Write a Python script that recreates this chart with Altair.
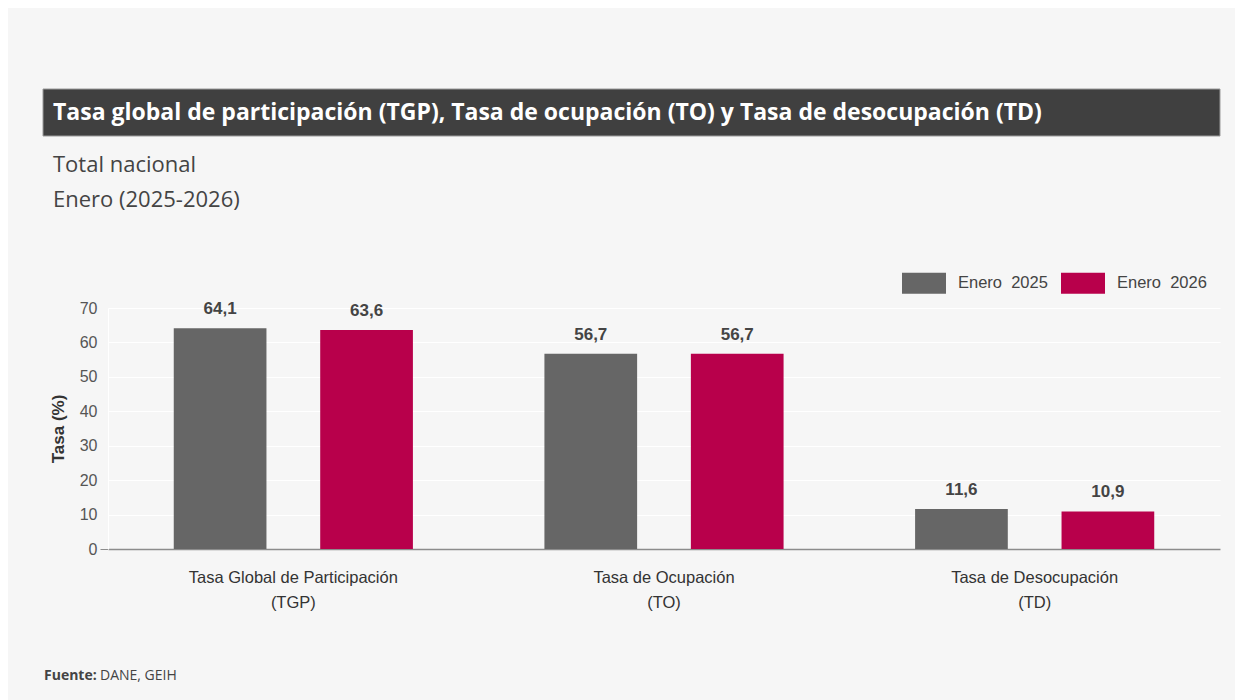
import altair as alt
import pandas as pd

# ---- data ----
categories = ["Tasa Global de Participación|(TGP)", "Tasa de Ocupación|(TO)", "Tasa de Desocupación|(TD)"]
series = ["Enero \u00a02025", "Enero \u00a02026"]
values_2025 = [64.1, 56.7, 11.6]
values_2026 = [63.6, 56.7, 10.9]
colors = ["#666666", "#B8004B"]
y_ticks = [0, 10, 20, 30, 40, 50, 60, 70]

title_text = "Tasa global de participación (TGP), Tasa de ocupación (TO) y Tasa de desocupación (TD)"
subtitle_lines = ["Total nacional", "Enero (2025-2026)"]
source_bold = "Fuente:"
source_text = "DANE, GEIH"

rows = []
for c, v in zip(categories, values_2025):
    rows.append({"cat": c, "serie": series[0], "valor": v})
for c, v in zip(categories, values_2026):
    rows.append({"cat": c, "serie": series[1], "valor": v})
df = pd.DataFrame(rows)

W, H = 1112, 241
LABEL_FONT = "Liberation Sans"
TEXT_FONT = "Open Sans"

x_axis = alt.Axis(labelExpr="split(datum.label, '|')", labelAngle=0,
                  labelFont=LABEL_FONT, labelFontSize=16.5, labelColor="#333333",
                  labelLineHeight=25, labelPadding=20, labelLimit=0, ticks=False,
                  domainColor="#8c8c8c", domainWidth=1.5, grid=False)
y_axis = alt.Axis(values=y_ticks, labelOverlap=False, tickCount=8,
                  labelFont=LABEL_FONT, labelFontSize=16, labelColor="#555555",
                  titleFont=LABEL_FONT, titleFontSize=17, titleFontWeight="bold",
                  titleColor="#333333", titlePadding=12,
                  tickSize=8, labelPadding=3,
                  tickColor={"condition": {"test": "datum.value == 0", "value": "#8c8c8c"},
                             "value": "transparent"},
                  gridColor="#ffffff", gridWidth=1.2,
                  domainColor="#ffffff", domainWidth=1.2)

x_enc = alt.X("cat:N", sort=categories, title=None,
              scale=alt.Scale(paddingInner=0, paddingOuter=0), axis=x_axis)
xoff_enc = alt.XOffset("serie:N", sort=series,
                       scale=alt.Scale(paddingInner=0.367, paddingOuter=0.449))
y_enc = alt.Y("valor:Q", title="Tasa (%)",
              scale=alt.Scale(domain=[0, 70], nice=False), axis=y_axis)

color_enc = alt.Color("serie:N", sort=series,
                      scale=alt.Scale(domain=series, range=colors),
                      legend=alt.Legend(title=None, orient="none", direction="horizontal",
                                        legendX=794, legendY=-47,
                                        symbolType="M-1,-0.477H1V0.477H-1Z", symbolSize=1936,
                                        symbolStrokeWidth=0, symbolOpacity=1,
                                        labelFont=LABEL_FONT, labelFontSize=16.5,
                                        labelColor="#444444", labelOffset=12,
                                        columnPadding=13))

bars = alt.Chart(df).mark_bar(stroke=None).encode(
    x=x_enc, xOffset=xoff_enc, y=y_enc, color=color_enc
)

labels = alt.Chart(df).transform_calculate(
    lbl="replace(format(datum.valor, '.1f'), '.', ',')"
).mark_text(font=LABEL_FONT, fontSize=17, fontWeight="bold", color="#444444",
            baseline="alphabetic", dy=-14).encode(
    x=x_enc, xOffset=xoff_enc, y=y_enc, text="lbl:N",
)

one = pd.DataFrame({"k": [0]})

title_bar = alt.Chart(one).mark_rect(color="#404040", stroke="#9a9a9a", strokeWidth=1).encode(
    x=alt.value(-65), x2=alt.value(W), y=alt.value(-219), y2=alt.value(-172)
)
title_txt = alt.Chart(one).mark_text(font=TEXT_FONT, fontSize=23,
                                     fontWeight="bold", color="#ffffff",
                                     align="left", baseline="middle").encode(
    x=alt.value(-55), y=alt.value(-195), text=alt.value(title_text)
)
sub1 = alt.Chart(one).mark_text(font=TEXT_FONT, fontSize=22,
                                color="#444444", align="left", baseline="middle").encode(
    x=alt.value(-55), y=alt.value(-143), text=alt.value(subtitle_lines[0])
)
sub2 = alt.Chart(one).mark_text(font=TEXT_FONT, fontSize=22,
                                color="#444444", align="left", baseline="middle").encode(
    x=alt.value(-55), y=alt.value(-108), text=alt.value(subtitle_lines[1])
)
src1 = alt.Chart(one).mark_text(font=TEXT_FONT, fontSize=14,
                                fontWeight="bold", color="#444444",
                                align="left", baseline="middle").encode(
    x=alt.value(-64), y=alt.value(368), text=alt.value(source_bold)
)
src2 = alt.Chart(one).mark_text(font=TEXT_FONT, fontSize=14,
                                color="#444444", align="left", baseline="middle").encode(
    x=alt.value(-8), y=alt.value(368), text=alt.value(source_text)
)

chart = alt.layer(bars, labels, title_bar, title_txt, sub1, sub2, src1, src2).properties(
    width=W, height=H,
    background="#f6f6f6",
    padding={"left": 100, "top": 300, "right": 15, "bottom": 151},
    autosize=alt.AutoSizeParams(type="none"),
).configure_view(stroke=None)

chart.save("out.html", embed_options={"renderer": "svg", "actions": False})
